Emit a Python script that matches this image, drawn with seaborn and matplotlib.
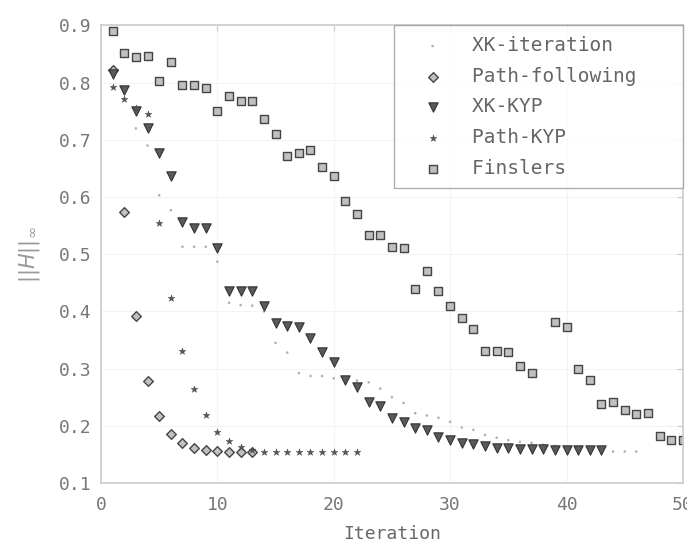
import numpy as np
import pandas as pd
import matplotlib
matplotlib.use('Agg')
import matplotlib.pyplot as plt
import seaborn as sns

# values, iteration index starts at 1
xk_iteration = [0.815, 0.79, 0.72, 0.69, 0.603, 0.577, 0.513, 0.513, 0.513, 0.487,
                0.415, 0.411, 0.41, 0.40, 0.345, 0.328, 0.292, 0.287, 0.287, 0.283,
                0.282, 0.279, 0.276, 0.265, 0.25, 0.24, 0.222, 0.218, 0.214, 0.207,
                0.197, 0.193, 0.184, 0.179, 0.175, 0.172, 0.17, 0.167, 0.165, 0.162,
                0.16, 0.158, 0.157, 0.155, 0.155, 0.155]
path_following = [0.822, 0.573, 0.392, 0.278, 0.217, 0.186, 0.17, 0.162, 0.158, 0.156,
                  0.155, 0.155, 0.155]
xk_kyp = [0.815, 0.787, 0.75, 0.72, 0.677, 0.636, 0.557, 0.545, 0.545, 0.51,
          0.436, 0.436, 0.436, 0.41, 0.379, 0.374, 0.372, 0.353, 0.329, 0.311,
          0.28, 0.268, 0.242, 0.234, 0.214, 0.207, 0.197, 0.193, 0.181, 0.176,
          0.170, 0.168, 0.164, 0.162, 0.161, 0.16, 0.159, 0.159, 0.158, 0.158,
          0.158, 0.158, 0.158]
path_kyp = [0.792, 0.772, 0.755, 0.745, 0.555, 0.424, 0.33, 0.264, 0.219, 0.19,
            0.174, 0.163, 0.157, 0.155, 0.155, 0.155, 0.155, 0.155, 0.155, 0.155,
            0.155, 0.155]
finslers = [0.89, 0.852, 0.845, 0.846, 0.803, 0.836, 0.795, 0.795, 0.79, 0.75,
            0.776, 0.768, 0.768, 0.737, 0.711, 0.672, 0.677, 0.682, 0.652, 0.636,
            0.593, 0.57, 0.534, 0.534, 0.513, 0.511, 0.44, 0.471, 0.436, 0.41,
            0.388, 0.369, 0.331, 0.331, 0.329, 0.304, 0.293, np.nan, 0.381, 0.372,
            0.30, 0.28, 0.239, 0.241, 0.228, 0.22, 0.223, 0.183, 0.175, 0.175]

x_ticks = [0, 10, 20, 30, 40, 50]
y_ticks = [0.1, 0.2, 0.3, 0.4, 0.5, 0.6, 0.7, 0.8, 0.9]

sns.set_style('white')
plt.rcParams['font.family'] = ['DejaVu Sans Mono', 'DejaVu Sans']

fig = plt.figure(figsize=(6.87, 5.48), dpi=100)
ax = fig.add_axes([0.147, 0.1186, 0.847, 0.835])

txt = '#666666'
series = [
    ('XK-iteration', xk_iteration, dict(marker='.', s=14, color='#b0b0b0', edgecolor='none')),
    ('Path-following', path_following, dict(marker='D', s=24, color='#c0c0c0', edgecolor='#444444', linewidth=1.0)),
    ('XK-KYP', xk_kyp, dict(marker='v', s=45, color='#5a5a5a', edgecolor='#333333', linewidth=0.8)),
    ('Path-KYP', path_kyp, dict(marker='*', s=26, color='#555555', edgecolor='#444444', linewidth=0.3)),
    ('Finslers', finslers, dict(marker='s', s=26, color='#c0c0c0', edgecolor='#444444', linewidth=1.0)),
]

for name, vals, kw in series:
    it = np.arange(1, len(vals) + 1)
    sns.scatterplot(x=it, y=vals, ax=ax, label=name + '   ', **kw)

ax.set_xlim(0, 50)
ax.set_ylim(0.1, 0.9)
ax.set_xticks(x_ticks)
ax.set_yticks(y_ticks)
ax.set_yticklabels([f'{v:.1f}' for v in y_ticks])
ax.tick_params(direction='in', length=4, colors='#cccccc', labelcolor='#777777',
               labelsize=13, top=True, right=True)
ax.tick_params(axis='x', pad=9)
ax.tick_params(axis='y', pad=7)
for sp in ax.spines.values():
    sp.set_color('#cccccc')
    sp.set_linewidth(1.2)
ax.grid(True, color='#f3f3f3', linewidth=0.8)

ax.set_xlabel('Iteration', fontsize=13, color=txt, labelpad=8)
ax.set_ylabel(r'$||H||_\infty$', fontsize=15, color='#999999', labelpad=12)

leg = ax.legend(loc='upper right', fontsize=14, frameon=True, fancybox=False,
                borderaxespad=0.0, labelspacing=0.6, handlelength=2.9,
                handletextpad=0.6, borderpad=0.55)
leg.get_frame().set_edgecolor('#999999')
leg.get_frame().set_linewidth(1.0)
for t in leg.get_texts():
    t.set_color(txt)

fig.savefig('out.png', dpi=100)
